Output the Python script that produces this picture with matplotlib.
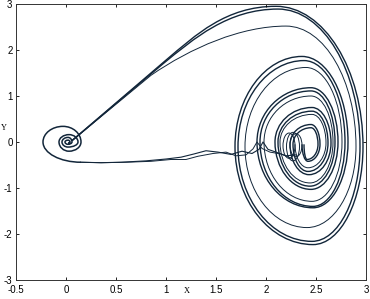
import numpy as np
import matplotlib.pyplot as plt
from matplotlib.path import Path
from matplotlib.patches import PathPatch, Ellipse

# --- data ----------------------------------------------------------------
# three strands leave the left focus along the diagonal and wind round the
# right focus; extremes of each turn in order top, right, bottom, left, ...
strand_a_x = [2.10, 2.97, 2.47, 1.69, 2.36, 2.82, 2.47, 1.91, 2.45, 2.72, 2.45, 2.09,
              2.46, 2.65, 2.43, 2.24, 2.45, 2.54, 2.42, 2.36]
strand_a_y = [2.95, -0.10, -2.23, -0.10, 1.86, 0.00, -1.43, 0.00, 1.18, 0.00, -1.03, 0.00,
              0.75, -0.02, -0.71, -0.05, 0.38, -0.05, -0.42, -0.05]
strand_b_x = [2.12, 2.94, 2.46, 1.72, 2.38, 2.79, 2.47, 1.94, 2.45, 2.69, 2.44, 2.12,
              2.46, 2.62, 2.42, 2.27, 2.45, 2.52, 2.41, 2.38]
strand_b_y = [2.89, -0.10, -2.16, -0.10, 1.77, 0.00, -1.40, 0.00, 1.11, 0.00, -0.96, 0.00,
              0.67, -0.02, -0.64, -0.05, 0.31, -0.05, -0.38, -0.05]
strand_c_x = [2.20, 2.90, 2.41, 1.79, 2.40, 2.76, 2.46, 1.98, 2.45, 2.67, 2.44, 2.14,
              2.46, 2.60, 2.42, 2.29]
strand_c_y = [2.52, -0.10, -1.86, -0.10, 1.62, 0.00, -1.29, 0.00, 1.00, 0.00, -0.89, 0.00,
              0.60, -0.02, -0.56, -0.05]

# diagonal leg: start, end of straight part, two handles before the first top
diag_start = [(0.06, 0.03), (0.06, 0.03), (0.06, 0.03)]
diag_bend = [(1.00, 1.78), (0.97, 1.70), (0.85, 1.45)]
diag_h1 = [(1.30, 2.33), (1.28, 2.25), (1.25, 2.05)]
diag_h2 = [(1.60, 2.95), (1.62, 2.89), (1.75, 2.52)]

# small loops where the orbit leaves the right focus
loop_x = [2.23, 2.27, 2.30]
loop_y = [-0.08, -0.10, -0.07]
loop_w = [0.12, 0.13, 0.12]
loop_h = [0.55, 0.62, 0.50]

# wavy return branch towards the left focus
exit_a_x = [2.30, 2.20, 2.10, 2.02, 1.97, 1.93, 1.86, 1.76, 1.65, 1.52, 1.40, 1.28,
            1.15, 1.00, 0.80, 0.55, 0.35, 0.15]
exit_a_y = [-0.28, -0.30, -0.22, -0.16, 0.00, -0.16, -0.25, -0.20, -0.27, -0.22, -0.19,
            -0.26, -0.33, -0.37, -0.41, -0.44, -0.45, -0.44]
exit_b_x = [2.26, 2.15, 2.04, 1.96, 1.91, 1.87, 1.80, 1.70, 1.60, 1.47, 1.32, 1.20,
            1.05, 0.85, 0.60, 0.35, 0.15]
exit_b_y = [-0.36, -0.26, -0.22, -0.14, 0.00, -0.15, -0.28, -0.30, -0.22, -0.25, -0.31,
            -0.38, -0.38, -0.42, -0.44, -0.45, -0.44]

# spiral into the left focus: bottom, left, top, right, bottom, ...
orig_x = [0.15, -0.23, -0.03, 0.15, 0.03, -0.07, 0.03, 0.12, 0.02, -0.04, 0.02, 0.06,
          0.02, -0.01, 0.02, 0.04, 0.02]
orig_y = [-0.44, 0.00, 0.34, 0.00, -0.20, 0.00, 0.16, 0.00, -0.11, 0.00, 0.10, 0.00,
          -0.05, 0.00, 0.04, 0.00, -0.02]

x_ticks = [-0.5, 0, 0.5, 1, 1.5, 2, 2.5, 3]
y_ticks = [-3, -2, -1, 0, 1, 2, 3]

col = '#12263a'
K = 0.55  # bezier handle share for quarter turns


def quarters(xs, ys):
    # cubic pieces between successive extremes (horizontal tangent at
    # top/bottom, vertical at left/right)
    verts, codes = [], []
    for i in range(len(xs) - 1):
        x0, y0, x1, y1 = xs[i], ys[i], xs[i + 1], ys[i + 1]
        if i % 2 == 0:
            c1 = (x0 + K * (x1 - x0), y0)
            c2 = (x1, y1 - K * (y1 - y0))
        else:
            c1 = (x0, y0 + K * (y1 - y0))
            c2 = (x1 - K * (x1 - x0), y1)
        verts += [c1, c2, (x1, y1)]
        codes += [Path.CURVE4] * 3
    return verts, codes


fig = plt.figure(figsize=(3.7, 2.99), dpi=100)
ax = fig.add_axes([16 / 370, 1 - 280 / 299, 350 / 370, 276 / 299])

strands = [(strand_a_x, strand_a_y), (strand_b_x, strand_b_y), (strand_c_x, strand_c_y)]
for n, (sx, sy) in enumerate(strands):
    verts = [diag_start[n], diag_bend[n], diag_h1[n], diag_h2[n], (sx[0], sy[0])]
    codes = [Path.MOVETO, Path.LINETO, Path.CURVE4, Path.CURVE4, Path.CURVE4]
    v, c = quarters(sx, sy)
    ax.add_patch(PathPatch(Path(verts + v, codes + c), fill=False, ec=col,
                           lw=1.0 if n < 2 else 0.7))

for x, y, w, h in zip(loop_x, loop_y, loop_w, loop_h):
    ax.add_patch(Ellipse((x, y), w, h, fill=False, ec=col, lw=0.7))

ax.plot(exit_a_x, exit_a_y, color=col, lw=0.8)
ax.plot(exit_b_x, exit_b_y, color=col, lw=0.7)

v, c = quarters(orig_x, orig_y)
ax.add_patch(PathPatch(Path([(orig_x[0], orig_y[0])] + v, [Path.MOVETO] + c),
                       fill=False, ec=col, lw=1.1))

ax.set_xlim(-0.5, 3)
ax.set_ylim(-3, 3)
ax.set_xticks(x_ticks)
ax.set_yticks(y_ticks)
ax.set_xticklabels(['-0.5', '0', '0.5', '1', '1.5', '2', '2.5', '3'])
ax.set_yticklabels(['-3', '-2', '-1', '0', '1', '2', '3'])
ax.tick_params(direction='in', length=2.5, width=0.6, top=True, right=True,
               labelsize=7)
ax.tick_params(axis='x', pad=3.8)
ax.tick_params(axis='y', pad=2.5)
for lab in ax.get_xticklabels() + ax.get_yticklabels():
    lab.set_family('Liberation Sans')
for s in ax.spines.values():
    s.set_linewidth(0.7)
    s.set_color('#333333')

ax.set_xlabel('X', family='Liberation Serif', fontsize=6)
ax.xaxis.set_label_coords(0.489, -0.024)
ax.set_ylabel('Y', family='Liberation Serif', fontsize=6, rotation=0,
              ha='center', va='center')
ax.yaxis.set_label_coords(-0.034, 0.551)

fig.savefig('out.png', dpi=100)
